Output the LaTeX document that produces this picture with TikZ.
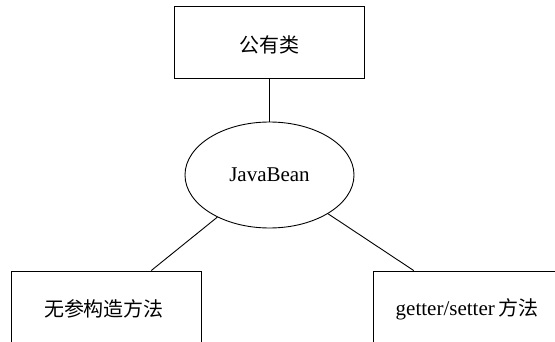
\documentclass[tikz,border=0pt]{standalone}
\usepackage{fontspec}
\setmainfont{Liberation Serif}
\newfontfamily\cjk{Noto Sans CJK SC}
\usetikzlibrary{shapes.geometric,calc}
\tikzset{
  box/.style={draw, line width=0.9pt, rectangle, minimum width=190pt, minimum height=72pt, inner sep=0pt},
  oval/.style={draw, line width=0.9pt, ellipse, minimum width=169pt, minimum height=106pt, inner sep=0pt},
  link/.style={line width=0.9pt},
  lbl/.style={font=\fontsize{20}{24}\selectfont}
}
\begin{document}
\begin{tikzpicture}[x=1pt,y=-1pt]
  \useasboundingbox (0,0) rectangle (555,342);
  \clip (0,0) rectangle (555,342);
  % class box, bean ellipse and the two member boxes
  \node[box] (cls) at (269.5,42) {};
  \node[lbl] (clstext) at (269.5,45) {\cjk 公有类};
  \node[oval, font=\fontsize{21}{25}\selectfont] (bean) at (269.5,175) {JavaBean};
  \node[box] (ctor) at (106,307) {};
  \node[lbl] (ctortext) at (104,309) {\cjk 无参构造方法};
  \node[box, minimum width=188pt] (acc) at (467,307) {};
  \node[font=\fontsize{21}{25}\selectfont] (acctext) at (467,309) {getter/setter\,{\cjk\fontsize{20}{24}\selectfont 方法}};
  % attachment points on the box tops
  \coordinate (ctorTop) at ($(ctor.north west)!0.737!(ctor.north east)$);
  \coordinate (accTop) at ($(acc.north west)!0.218!(acc.north east)$);
  % connectors
  \draw[link] (cls) -- (bean);
  \draw[link] (bean) -- (ctorTop);
  \draw[link] (bean) -- (accTop);
\end{tikzpicture}
\end{document}
